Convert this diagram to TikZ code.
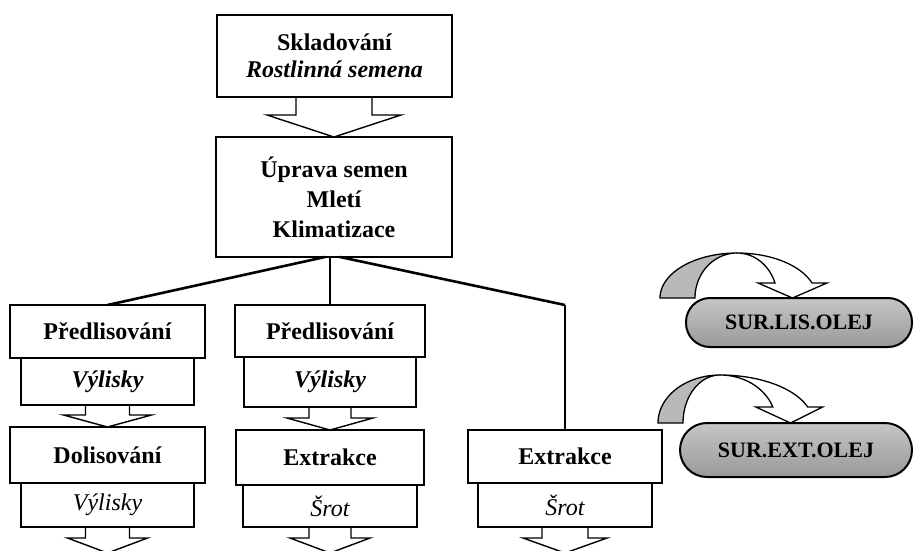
\documentclass[tikz,border=0pt]{standalone}
\usepackage{fontspec}
\setmainfont{Liberation Serif}
\usetikzlibrary{positioning,calc}

% block arrow: from, to, stub half-width, wing half-width, head height
\newcommand{\sipka}[5]{%
\draw[sip] ($(#1.south -| #2.north)+(-#3,0)$) -- ($(#2.north)+(-#3,-#5)$) -- ($(#2.north)+(-#4,-#5)$) -- (#2.north)
  -- ($(#2.north)+(#4,-#5)$) -- ($(#2.north)+(#3,-#5)$) -- ($(#1.south -| #2.north)+(#3,0)$);}

% curved arrow: apex x, top y, base y, head y, gray outer rx, gray inner rx, white outer rx, white inner rx, tip x
\newcommand{\oblouk}[9]{%
\pgfmathsetmacro{\tnula}{asin((#3-#4)/(#3-#2))}
\pgfmathsetmacro{\polomer}{#3-#2}
\pgfmathsetmacro{\xvnej}{#1+#7*cos(\tnula)}
\pgfmathsetmacro{\xvnit}{#1+#8*cos(\tnula)}
\filldraw[fill=gray!55, line width=1.3pt] plot[domain=180:90, samples=30] ({#1+#5*cos(\x)},{#3-\polomer*sin(\x)})
  -- plot[domain=90:180, samples=30] ({#1+#6*cos(\x)},{#3-\polomer*sin(\x)}) -- cycle;
\filldraw[fill=white, line width=1.3pt, line join=miter] plot[domain=90:\tnula, samples=30] ({#1+#7*cos(\x)},{#3-\polomer*sin(\x)})
  -- ({\xvnej+15},#4) -- (#9,#3) -- ({\xvnit-17},#4)
  -- plot[domain=\tnula:90, samples=30] ({#1+#8*cos(\x)},{#3-\polomer*sin(\x)}) -- cycle;}

\begin{document}
\begin{tikzpicture}[x=1pt,y=-1pt,
  box/.style={draw, line width=2.4pt, outer sep=0pt, inner sep=0pt, align=center, font=\fontsize{24}{30}\selectfont\bfseries},
  sub/.style={draw, line width=1.2pt, outer sep=0pt, inner sep=0pt, font=\fontsize{24}{28}\selectfont\itshape},
  sip/.style={line width=1.4pt, line join=miter},
  link/.style={line width=2.6pt},
  olej/.style={draw, line width=2pt, outer sep=0pt, rounded corners=24pt, top color=gray!45, middle color=gray!30, bottom color=gray!80, font=\fontsize{22}{24}\selectfont\bfseries}]
\useasboundingbox (0,0) rectangle (915,550);
\clip (0,0) rectangle (915,550);

% upper part
\node[box, minimum width=235pt, minimum height=82pt, font=\fontsize{24}{27}\selectfont\bfseries] (skl) at (334.5,56) {Skladování\\\textit{Rostlinná semena}};
\node[box, minimum width=236pt, minimum height=120pt] (upr) at (334,197) {Úprava semen\\Mletí\\Klimatizace};
\sipka{skl}{upr}{38}{67}{22}

% left branch
\node[box, minimum width=195pt, minimum height=53pt] (pl1) at (107.5,331.5) {Předlisování};
\node[sub, minimum width=173pt, minimum height=47pt, below=0pt of pl1, font=\fontsize{24}{28}\selectfont\bfseries\itshape] (pl1s) {Výlisky};
\node[box, minimum width=195pt, minimum height=56pt] (dol) at (107.5,455) {Dolisování};
\node[sub, minimum width=173pt, minimum height=44pt, below=0pt of dol] (dols) {Výlisky};
\coordinate (k1) at (107.5,553);
\sipka{pl1s}{dol}{22}{44}{12}
\sipka{dols}{k1}{22}{40}{15}

% middle branch
\node[box, minimum width=190pt, minimum height=52pt] (pm1) at (330,331) {Předlisování};
\node[sub, minimum width=172pt, minimum height=50pt, below=0pt of pm1, font=\fontsize{24}{28}\selectfont\bfseries\itshape] (pm1s) {Výlisky};
\node[box, minimum width=188pt, minimum height=55pt] (ex2) at (330,457.5) {Extrakce};
\node[sub, minimum width=174pt, minimum height=42pt, below=0pt of ex2] (ex2s) {Šrot};
\coordinate (k2) at (330,553);
\sipka{pm1s}{ex2}{21}{43}{12}
\sipka{ex2s}{k2}{21}{40}{15}

% right branch
\node[box, minimum width=194pt, minimum height=53pt] (ex3) at (565,456.5) {Extrakce};
\node[sub, minimum width=174pt, minimum height=44pt, below=0pt of ex3] (ex3s) {Šrot};
\coordinate (k3) at (565,553);
\sipka{ex3s}{k3}{23}{42}{15}

% connectors
\coordinate (roh) at (ex3.north |- pl1.north);
\draw[link] ($(upr.south)+(-9,0)$) -- (pl1.north);
\draw[line width=2pt] (upr.south -| pm1.north) -- (pm1.north);
\draw[link] ($(upr.south)+(6,0)$) -- (roh);
\draw[line width=2pt] (roh) -- (ex3.north);

% oil outputs
\node[olej, minimum width=226pt, minimum height=49pt] (ol1) at (799,322.5) {SUR.LIS.OLEJ};
\node[olej, minimum width=232pt, minimum height=54pt, rounded corners=27pt] (ol2) at (796,450) {SUR.EXT.OLEJ};
\oblouk{737}{253}{298}{283}{77}{42}{79.5}{40.3}{792.5}
\oblouk{720}{375}{423}{407}{62}{37}{93}{56}{790.5}
\end{tikzpicture}
\end{document}
